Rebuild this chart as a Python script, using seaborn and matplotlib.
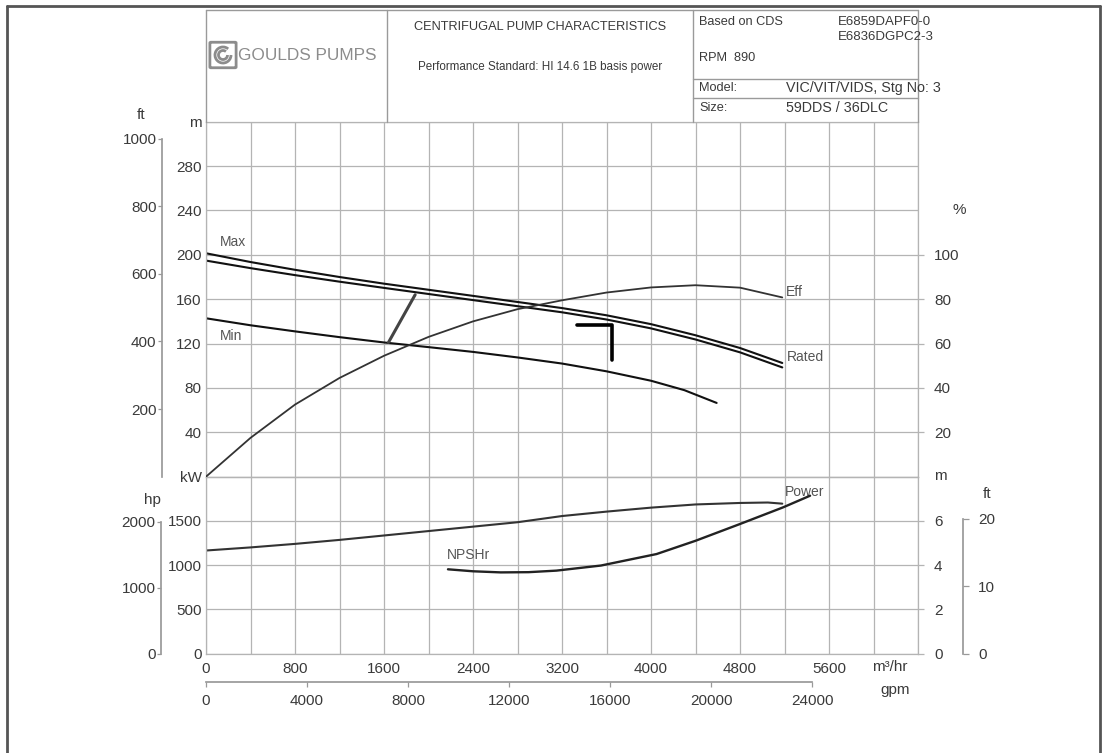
"""
Goulds pump characteristic chart (VIC/VIT/VIDS, 3 stages) redrawn with seaborn.
"""
import matplotlib
matplotlib.use("Agg")
import matplotlib.pyplot as plt
import seaborn as sns
from matplotlib.lines import Line2D
from matplotlib.patches import FancyBboxPatch, Arc

# ─── Data ─────────────────────────────────────────────────────────
FLOW_HEAD = [0, 400, 800, 1200, 1600, 2000, 2400, 2800, 3200, 3600, 4000, 4400, 4800, 5180]
HEAD_MAX = [201.4, 193.5, 186.5, 180.0, 174.0, 168.5, 163.0, 157.5, 152.0, 145.5, 137.5, 127.5, 116.0, 102.5]
HEAD_RATED = [194.8, 188.0, 181.7, 175.8, 170.2, 164.7, 159.2, 153.7, 148.2, 141.7, 133.7, 123.7, 112.1, 98.5]
EFF_PCT = [0, 17.5, 32.5, 44.5, 54.5, 63.0, 70.0, 75.5, 79.5, 83.0, 85.3, 86.3, 85.2, 80.8]

FLOW_MIN = [0, 400, 800, 1200, 1600, 2000, 2400, 2800, 3200, 3600, 4000, 4300, 4590]
HEAD_MIN = [142.8, 136.5, 131.0, 125.8, 121.0, 116.8, 112.5, 107.5, 102.0, 95.0, 86.5, 78.0, 66.5]

FLOW_POWER = [0, 400, 800, 1200, 1600, 2000, 2400, 2800, 3200, 3600, 4000, 4400, 4800, 5050, 5180]
POWER_KW = [1165, 1200, 1240, 1285, 1335, 1385, 1435, 1485, 1555, 1605, 1650, 1686, 1703, 1708, 1695]

FLOW_NPSH = [2175, 2400, 2650, 2900, 3150, 3550, 4050, 4400, 4800, 5186, 5430]
NPSH_M = [3.81, 3.72, 3.67, 3.68, 3.75, 3.98, 4.50, 5.10, 5.86, 6.61, 7.14]

POR_FLOW = [1640, 1880]          # slanted limit line
POR_HEAD = [121, 164]
RATED_FLOW = [3335, 3650, 3650]  # rated point "T" mark
RATED_HEAD = [137, 137, 105]

X_TICKS = list(range(0, 6401, 400))
X_LABELS = [str(v) if v % 800 == 0 and v <= 5600 else "" for v in X_TICKS]
HEAD_TICKS = list(range(0, 321, 40))
HEAD_LABELS = ["kW", "40", "80", "120", "160", "200", "240", "280", "m"]
KW_TICKS = [0, 500, 1000, 1500, 2000]
KW_LABELS = ["0", "500", "1000", "1500", ""]
FT_TICKS = [200, 400, 600, 800, 1000]
HP_TICKS = [0, 1000, 2000]
EFF_TICKS = [20, 40, 60, 80, 100]
NPSH_TICKS = [0, 2, 4, 6]
NPSH_FT_TICKS = [0, 10, 20]
GPM_TICKS = [0, 4000, 8000, 12000, 16000, 20000, 24000]

# ─── Style ────────────────────────────────────────────────────────
sns.set_theme(style="ticks")
plt.rcParams["font.family"] = ["Liberation Sans", "DejaVu Sans"]

GRID_C = "#b4b4b4"
TXT_C = "#3a3a3a"
LBL_C = "#555555"
TICK_FS = 11
W, H = 1107, 753

fig = plt.figure(figsize=(W / 100, H / 100), dpi=100)
fig.patch.set_facecolor("white")


def fx(x):
    return x / W


def fy(y):
    return 1 - y / H


def box(x0, y0, x1, y1):
    return [fx(x0), fy(y1), (x1 - x0) / W, (y1 - y0) / H]


def fline(xs, ys, **kw):
    fig.add_artist(Line2D([fx(x) for x in xs], [fy(y) for y in ys],
                          transform=fig.transFigure, **kw))


def ftext(x, y, s, **kw):
    kw.setdefault("color", TXT_C)
    fig.text(fx(x), fy(y), s, **kw)


GL, GR = 206, 918
ax_h = fig.add_axes(box(GL, 121.7, GR, 476.7))   # head (m)
ax_p = fig.add_axes(box(GL, 476.7, GR, 653.5))   # power (kW)
AXW = GR - GL

for ax in (ax_h, ax_p):
    ax.set_facecolor("white")
    ax.grid(True, color=GRID_C, lw=0.9)
    ax.set_axisbelow(True)
    for s in ax.spines.values():
        s.set_color(GRID_C)
        s.set_linewidth(0.9)

# ─── Upper panel: head + efficiency ───────────────────────────────
sns.lineplot(x=FLOW_HEAD, y=HEAD_MAX, ax=ax_h, color="#111111", lw=1.5, sort=False, estimator=None)
sns.lineplot(x=FLOW_HEAD, y=HEAD_RATED, ax=ax_h, color="#111111", lw=1.5, sort=False, estimator=None)
sns.lineplot(x=FLOW_MIN, y=HEAD_MIN, ax=ax_h, color="#111111", lw=1.5, sort=False, estimator=None)
sns.lineplot(x=POR_FLOW, y=POR_HEAD, ax=ax_h, color="#444444", lw=2.2, sort=False, estimator=None)
sns.lineplot(x=RATED_FLOW, y=RATED_HEAD, ax=ax_h, color="#000000", lw=2.6, sort=False, estimator=None)

ax_h.set_xlim(0, 6400)
ax_h.set_ylim(0, 320)
ax_h.set_xticks(X_TICKS)
ax_h.set_yticks(HEAD_TICKS)
ax_h.set_yticklabels(HEAD_LABELS)
ax_h.tick_params(axis="x", length=0, labelbottom=False)
ax_h.tick_params(axis="y", length=0, pad=3, labelsize=TICK_FS, labelcolor=TXT_C)
ax_h.set_xlabel("")
ax_h.set_ylabel("")

ax_e = ax_h.twinx()
sns.lineplot(x=FLOW_HEAD, y=EFF_PCT, ax=ax_e, color="#333333", lw=1.3, sort=False, estimator=None)
ax_e.set_ylim(0, 160)
ax_e.set_yticks(EFF_TICKS)
ax_e.tick_params(axis="y", right=True, length=4.5, width=0.9, color=GRID_C, pad=7,
                 labelsize=TICK_FS, labelcolor=TXT_C)
ax_e.set_ylabel("")
for s in ax_e.spines.values():
    s.set_visible(False)

# feet scale for head
sec_ft = ax_h.secondary_yaxis((162 - GL) / AXW, functions=(lambda m: m / 0.3048, lambda f: f * 0.3048))
sec_ft.set_yticks(FT_TICKS)
sec_ft.spines["left"].set_bounds(0, 1000)
sec_ft.spines["left"].set_color("#999999")
sec_ft.tick_params(axis="y", length=3, width=0.9, color="#999999", pad=1,
                   labelsize=TICK_FS, labelcolor=TXT_C)

# ─── Lower panel: power + NPSHr ───────────────────────────────────
sns.lineplot(x=FLOW_POWER, y=POWER_KW, ax=ax_p, color="#333333", lw=1.5, sort=False, estimator=None)
ax_p.set_xlim(0, 6400)
ax_p.set_ylim(0, 2000)
ax_p.set_xticks(X_TICKS)
ax_p.set_xticklabels(X_LABELS)
ax_p.set_yticks(KW_TICKS)
ax_p.set_yticklabels(KW_LABELS)
ax_p.tick_params(axis="x", length=0, pad=6, labelsize=TICK_FS, labelcolor=TXT_C)
ax_p.tick_params(axis="y", length=0, pad=3, labelsize=TICK_FS, labelcolor=TXT_C)
ax_p.set_xlabel("")
ax_p.set_ylabel("")

ax_n = ax_p.twinx()
sns.lineplot(x=FLOW_NPSH, y=NPSH_M, ax=ax_n, color="#222222", lw=1.7, sort=False, estimator=None)
ax_n.set_ylim(0, 8)
ax_n.set_yticks(NPSH_TICKS)
ax_n.tick_params(axis="y", right=True, length=4.5, width=0.9, color=GRID_C, pad=7,
                 labelsize=TICK_FS, labelcolor=TXT_C)
ax_n.set_ylabel("")
for s in ax_n.spines.values():
    s.set_visible(False)

sec_hp = ax_p.secondary_yaxis((161 - GL) / AXW, functions=(lambda k: k / 0.7457, lambda h: h * 0.7457))
sec_hp.set_yticks(HP_TICKS)
sec_hp.spines["left"].set_bounds(0, 2000)
sec_hp.spines["left"].set_color("#999999")
sec_hp.tick_params(axis="y", length=3, width=0.9, color="#999999", pad=1,
                   labelsize=TICK_FS, labelcolor=TXT_C)

sec_nft = ax_n.secondary_yaxis((963 - GL) / AXW, functions=(lambda m: m / 0.3048, lambda f: f * 0.3048))
sec_nft.set_yticks(NPSH_FT_TICKS)
sec_nft.spines["right"].set_bounds(0, 20)
sec_nft.spines["right"].set_color("#999999")
sec_nft.tick_params(axis="y", length=4, width=0.9, color="#999999", pad=7,
                    labelsize=TICK_FS, labelcolor=TXT_C)

sec_gpm = ax_p.secondary_xaxis(-(682 - 653.5) / 176.8, functions=(lambda q: q * 4.4029, lambda g: g / 4.4029))
sec_gpm.set_xticks(GPM_TICKS)
sec_gpm.spines["bottom"].set_bounds(0, 24000)
sec_gpm.spines["bottom"].set_color("#999999")
sec_gpm.tick_params(axis="x", length=3.5, width=0.9, color="#999999", pad=5,
                    labelsize=TICK_FS, labelcolor=TXT_C)

# ─── Curve labels ─────────────────────────────────────────────────
lab = dict(fontsize=10, color=LBL_C, va="center", ha="left")
ax_h.text(126, 211.6, "Max", **lab)
ax_h.text(126, 126.9, "Min", **lab)
ax_h.text(5222, 108, "Rated", **lab)
ax_e.text(5213, 83.2, "Eff", **lab)
ax_p.text(5204, 1830, "Power", **lab)
ax_n.text(2166, 4.44, "NPSHr", **lab)

# axis unit captions
ftext(141, 115, "ft", fontsize=TICK_FS, ha="center", va="center")
ftext(152, 500, "hp", fontsize=TICK_FS, ha="center", va="center")
ftext(952, 210, "%", fontsize=TICK_FS, ha="left", va="center")
ftext(934, 476, "m", fontsize=TICK_FS, ha="left", va="center")
ftext(987, 494, "ft", fontsize=TICK_FS, ha="center", va="center")
ftext(890, 667, "m³/hr", fontsize=TICK_FS, ha="center", va="center")
ftext(895, 690, "gpm", fontsize=TICK_FS, ha="center", va="center")

# ─── Header block ─────────────────────────────────────────────────
HC = "#9a9a9a"
fline([GL, GR], [10, 10], color=HC, lw=1)
fline([GL, GL], [10, 121.7], color=HC, lw=1)
fline([GR, GR], [10, 121.7], color=HC, lw=1)
fline([387, 387], [10, 121.7], color=HC, lw=1)
fline([693, 693], [10, 121.7], color=HC, lw=1)
fline([693, GR], [79, 79], color=HC, lw=1)
fline([693, GR], [98, 98], color=HC, lw=1)

ftext(540, 27, "CENTRIFUGAL PUMP CHARACTERISTICS", fontsize=9.2, ha="center", va="center")
ftext(540, 67, "Performance Standard: HI 14.6 1B basis power", fontsize=8.4, ha="center", va="center")
ftext(699, 22, "Based on CDS", fontsize=9.2, ha="left", va="center")
ftext(838, 22, "E6859DAPF0-0", fontsize=9.5, ha="left", va="center")
ftext(838, 37, "E6836DGPC2-3", fontsize=9.5, ha="left", va="center")
ftext(699, 58, "RPM  890", fontsize=9.2, ha="left", va="center")
ftext(699, 88, "Model:", fontsize=9.2, ha="left", va="center")
ftext(786, 88, "VIC/VIT/VIDS, Stg No: 3", fontsize=10.3, ha="left", va="center")
ftext(699, 108, "Size:", fontsize=9.2, ha="left", va="center")
ftext(786, 108, "59DDS / 36DLC", fontsize=10.3, ha="left", va="center")

# logo
LOGO_C = "#8c8c8c"
fig.add_artist(FancyBboxPatch((fx(211), fy(67)), 24 / W, 24 / H, boxstyle="round,pad=0.001",
                              transform=fig.transFigure, fill=False, ec=LOGO_C, lw=2))
for d in (16, 9):
    fig.add_artist(Arc((fx(223), fy(55)), d / W, d / H, theta1=60, theta2=360,
                       transform=fig.transFigure, color=LOGO_C, lw=2))
ftext(238, 55, "GOULDS PUMPS", fontsize=12.4, ha="left", va="center", color=LOGO_C)

# outer frame
fline([7, 7], [6, H + 5], color="#555555", lw=2)
fline([7, 1100], [6, 6], color="#555555", lw=2)
fline([1100, 1100], [6, H + 5], color="#555555", lw=2)

fig.savefig("out.png", dpi=100, facecolor="white")
plt.close(fig)
